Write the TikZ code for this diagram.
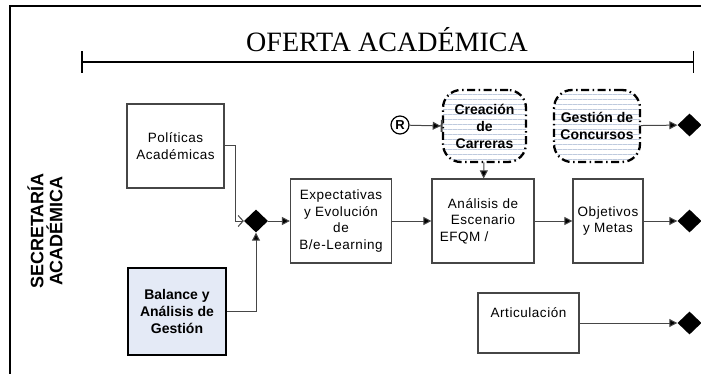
\documentclass[tikz,border=0pt]{standalone}
\usepackage{fontspec}
\setmainfont{Liberation Serif}
\setsansfont{Liberation Sans}
\newfontfamily\boxfont{Liberation Sans}[LetterSpace=4]
\usetikzlibrary{shapes.geometric,arrows.meta,patterns.meta}
\definecolor{lineg}{RGB}{70,70,70}
\definecolor{balfill}{RGB}{228,234,246}
\definecolor{hatch}{RGB}{190,202,222}
\tikzset{
  proc/.style={draw=lineg, line width=1.2pt, fill=white, align=center,
    font=\boxfont\fontsize{13.5}{16.5}\selectfont, inner sep=2pt},
  procbold/.style={draw=black, line width=2pt, fill=balfill, align=center,
    font=\sffamily\bfseries\fontsize{14}{17}\selectfont, inner sep=2pt},
  sub/.style={draw=black, line width=2.3pt, rounded corners=18pt,
    dash pattern=on 8pt off 3.5pt on 1.5pt off 3.5pt,
    pattern={Lines[angle=0,distance=5pt,line width=0.6pt]}, pattern color=hatch,
    align=center, font=\sffamily\bfseries\fontsize{14}{17}\selectfont,
    minimum height=72pt, inner sep=1pt},
  junc/.style={diamond, fill=black, minimum width=24pt, minimum height=23pt, inner sep=0pt},
  flow/.style={draw=lineg, line width=1pt, -{Triangle[length=8pt,width=8pt,fill=black]}},
}
\begin{document}
\begin{tikzpicture}[x=1pt,y=-1pt]
  \useasboundingbox (0,0) rectangle (701,374);
  % frame
  \draw[line width=2pt] (701,6) -- (10,6) -- (10,374);
  \node[font=\fontsize{28}{32}\selectfont] (title) at (387,40) {OFERTA ACADÉMICA};
  \draw[line width=1.5pt, {Bar[width=22pt]}-{Bar[width=22pt]}] (81,62) -- (694,62);
  \node[rotate=90, align=center, font=\sffamily\bfseries\fontsize{18}{19}\selectfont]
    (sec) at (45,231) {SECRETARÍA\\ACADÉMICA};
  % boxes
  \node[proc, minimum width=97pt, minimum height=84pt] (pol) at (175.5,146) {Políticas\\Académicas};
  \node[procbold, minimum width=98pt, minimum height=87pt] (bal) at (177,311.5) {Balance y\\Análisis de\\Gestión};
  \node[proc, minimum width=101pt, minimum height=84pt] (exp) at (341,221) {Expectativas\\y Evolución\\de\\B/e-Learning};
  \node[proc, minimum width=102pt, minimum height=84pt] (ana) at (483,221) {Análisis de\\Escenario\\EFQM /\hspace*{2.8em}};
  \node[proc, minimum width=70pt, minimum height=84pt] (obj) at (608,221) {Objetivos\\y Metas};
  \node[proc, minimum width=101pt, minimum height=60pt] (art) at (528.5,323) {Articulación\\\strut};
  \node[sub, minimum width=83pt] (cre) at (484.5,126) {Creación\\de\\Carreras};
  \node[sub, minimum width=86pt] (ges) at (597,126) {Gestión de\\Concursos};
  \node[circle, draw=black, line width=1.2pt, minimum size=18pt, inner sep=0pt,
    font=\sffamily\bfseries\fontsize{13}{13}\selectfont] (r) at (400,125) {R};
  % junctions
  \node[junc] (j1) at (256,221) {};
  \node[junc] (d1) at (689.5,125) {};
  \node[junc] (d2) at (689.5,221) {};
  \node[junc] (d3) at (689.5,323) {};
  % connectors
  \draw[draw=lineg, line width=1pt, -{Straight Barb[length=5pt,width=11pt]}]
    (pol.east |- 0,146) -- ++(11,0) |- (j1.west);
  \draw[flow] (bal.east) -| (j1.south);
  \draw[flow] (j1) -- (exp);
  \draw[flow] (exp) -- (ana);
  \draw[flow] (ana) -- (obj);
  \draw[flow] (obj) -- (d2);
  \draw[flow] (art) -- (d3);
  \draw[flow] (ges) -- (d1);
  \draw[flow] (cre) -- (ana);
  \draw[draw=lineg, line width=1pt, -{Triangle[length=8pt,width=8pt,fill=black] Bar[width=12pt,line width=2pt]}]
    (r) -- (cre.west);
\end{tikzpicture}
\end{document}
